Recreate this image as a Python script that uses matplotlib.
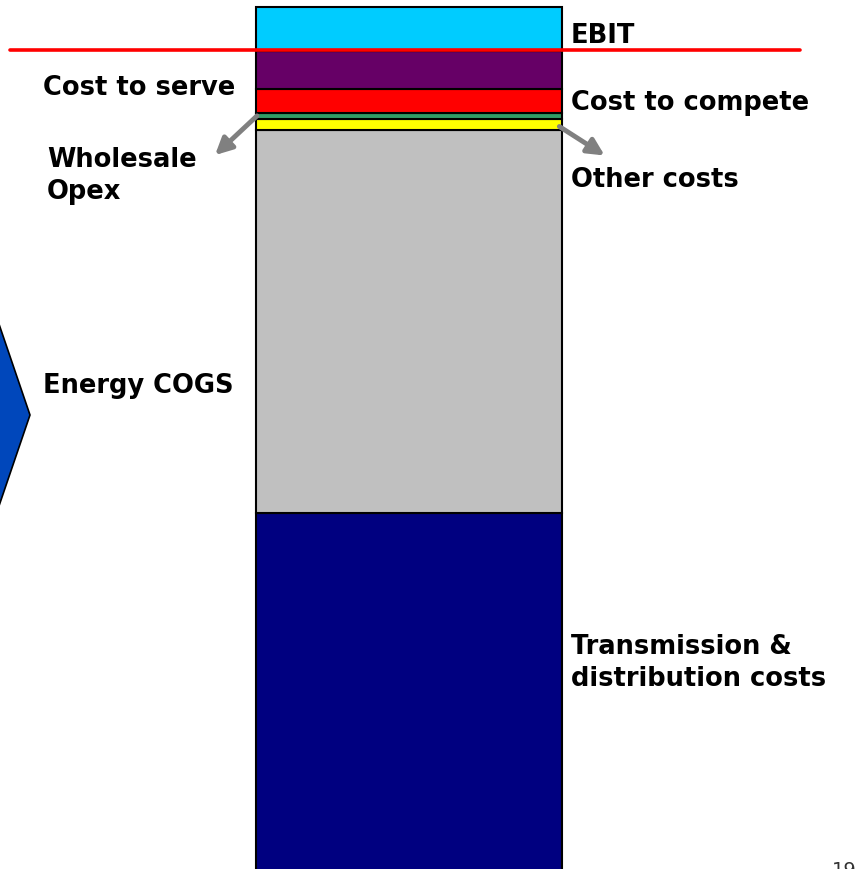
import matplotlib.pyplot as plt
from matplotlib.patches import Polygon

# Cost stack, bottom to top (relative size)
segments = ["Transmission & distribution costs", "Energy COGS", "Other costs",
            "Wholesale Opex", "Cost to compete", "Cost to serve", "EBIT"]
values = [376, 383, 11, 6.3, 23.7, 38, 44.5]
colors = ["#000080", "#C0C0C0", "#FFFF00", "#339966", "#FF0000", "#660066", "#00CCFF"]

W, H = 857, 870
fig = plt.figure(figsize=(W / 100, H / 100), dpi=100)
ax = fig.add_axes([0, 0, 1, 1])
ax.set_xlim(0, W)
ax.set_ylim(20, 890)
ax.axis("off")


def fp(x, y):
    # pixel position -> figure fraction
    return x / W, 1 - y / H


# stacked bar
bottom = 0
for v, c in zip(values, colors):
    ax.bar(409, v, width=306, bottom=bottom, color=c, edgecolor="black",
           linewidth=1.5, zorder=2)
    bottom += v

# EBIT cut line
ax.plot([10, 800], [890 - 50.5, 890 - 50.5], color="#FF0000", lw=2.6,
        solid_capstyle="round", zorder=3)

# blue chevron on the left edge
chev = Polygon([(-60, 890 - 152), (30, 890 - 416), (-60, 890 - 680)],
               closed=True, facecolor="#0047BB", edgecolor="black", lw=1.2)
ax.add_patch(chev)

lab = dict(fontsize=18.5, fontweight="bold", family="DejaVu Sans",
           va="center", ha="left", color="black")
fig.text(*fp(571, 36), "EBIT", **lab)
fig.text(*fp(43, 88), "Cost to serve", **lab)
fig.text(*fp(571, 103), "Cost to compete", **lab)
fig.text(*fp(47, 176), "Wholesale\nOpex", linespacing=1.3, **lab)
fig.text(*fp(571, 180), "Other costs", **lab)
fig.text(*fp(43, 386), "Energy COGS", **lab)
fig.text(*fp(571, 663), "Transmission &\ndistribution costs", linespacing=1.3, **lab)

# gray pointer arrows
arr = dict(arrowstyle="-|>,head_length=1.0,head_width=0.5", color="#808080", lw=3.5)
ax.annotate("", xy=fp(213, 158), xytext=fp(259, 115),
            xycoords="figure fraction", textcoords="figure fraction", arrowprops=arr)
ax.annotate("", xy=fp(607, 158), xytext=fp(557, 126),
            xycoords="figure fraction", textcoords="figure fraction", arrowprops=arr)

# page number, cut by the slide edge
fig.text(*fp(832, 871), "19", fontsize=14, color="#333333", ha="left", va="center")

fig.savefig("out.png", dpi=100)
